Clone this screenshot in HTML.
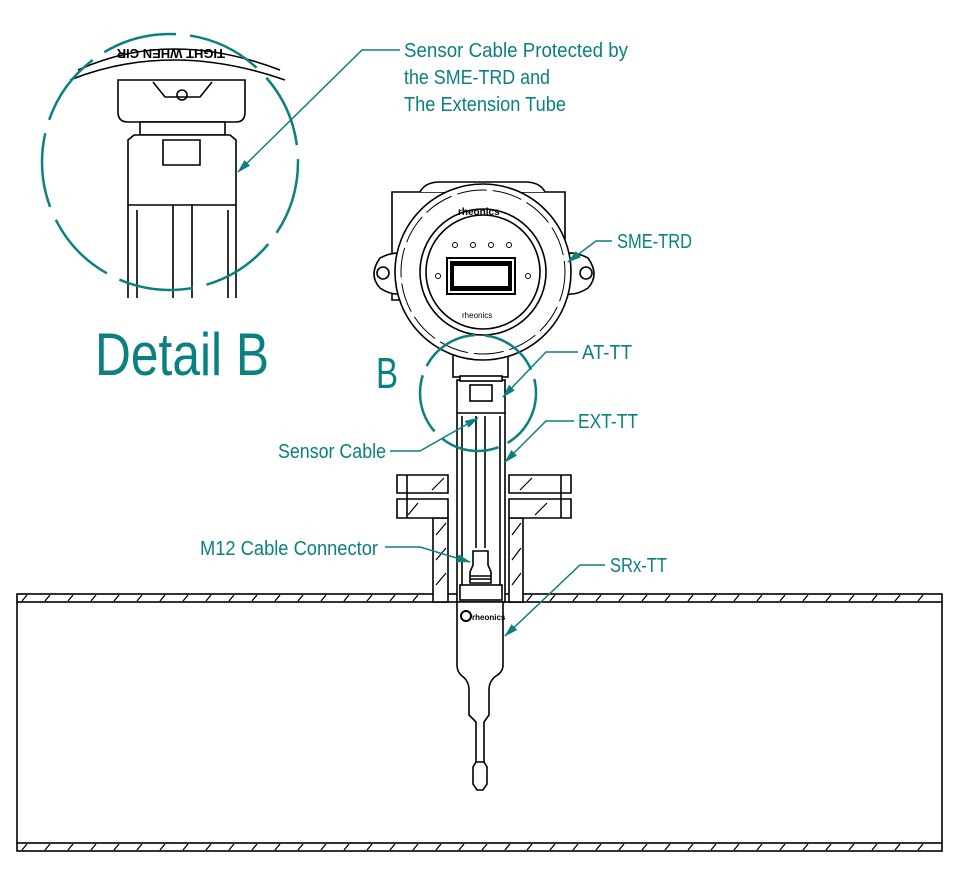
<!DOCTYPE html>
<html><head><meta charset="utf-8"><style>html,body{margin:0;padding:0;background:#fff}svg{display:block}</style></head>
<body>
<svg width="963" height="881" viewBox="0 0 963 881" xmlns="http://www.w3.org/2000/svg" font-family="Liberation Sans, sans-serif">
<defs>
<marker id="ar" markerWidth="14" markerHeight="8" refX="13" refY="4" orient="auto" markerUnits="userSpaceOnUse"><path d="M0,0 L14,4 L0,8 Z" fill="#0a8080"/></marker>
</defs>
<g fill="none" stroke="#000" stroke-width="1.6">
<!-- pipe -->
<rect x="17" y="594" width="925" height="8" fill="#fff"/>
<rect x="17" y="843" width="925" height="8" fill="#fff"/>
<line x1="17" y1="602" x2="17" y2="843"/>
<line x1="942" y1="602" x2="942" y2="843"/>
<g stroke-width="1.3">
<path d="M22,601l5,-6 M45,601l5,-6 M68,601l5,-6 M91,601l5,-6 M114,601l5,-6 M137,601l5,-6 M160,601l5,-6 M183,601l5,-6 M206,601l5,-6 M229,601l5,-6 M252,601l5,-6 M275,601l5,-6 M298,601l5,-6 M321,601l5,-6 M344,601l5,-6 M367,601l5,-6 M390,601l5,-6 M413,601l5,-6 M527,601l5,-6 M550,601l5,-6 M573,601l5,-6 M596,601l5,-6 M619,601l5,-6 M642,601l5,-6 M665,601l5,-6 M688,601l5,-6 M711,601l5,-6 M734,601l5,-6 M757,601l5,-6 M780,601l5,-6 M803,601l5,-6 M826,601l5,-6 M849,601l5,-6 M872,601l5,-6 M895,601l5,-6 M918,601l5,-6"/>
<path d="M22,850l5,-6 M45,850l5,-6 M68,850l5,-6 M91,850l5,-6 M114,850l5,-6 M137,850l5,-6 M160,850l5,-6 M183,850l5,-6 M206,850l5,-6 M229,850l5,-6 M252,850l5,-6 M275,850l5,-6 M298,850l5,-6 M321,850l5,-6 M344,850l5,-6 M367,850l5,-6 M390,850l5,-6 M413,850l5,-6 M436,850l5,-6 M459,850l5,-6 M482,850l5,-6 M505,850l5,-6 M527,850l5,-6 M550,850l5,-6 M573,850l5,-6 M596,850l5,-6 M619,850l5,-6 M642,850l5,-6 M665,850l5,-6 M688,850l5,-6 M711,850l5,-6 M734,850l5,-6 M757,850l5,-6 M780,850l5,-6 M803,850l5,-6 M826,850l5,-6 M849,850l5,-6 M872,850l5,-6 M895,850l5,-6 M918,850l5,-6"/>
</g>
<!-- flange & nozzle -->
<rect x="433" y="518" width="15" height="84" fill="#fff"/>
<rect x="509" y="518" width="14" height="84" fill="#fff"/>
<path d="M397,475 H448 V493 H397 Z M397,499 H448 V518 H397 Z" fill="#fff"/>
<path d="M509,475 H571 V493 H509 Z M509,499 H571 V518 H509 Z" fill="#fff"/>
<line x1="407" y1="475" x2="407" y2="518"/><line x1="561" y1="475" x2="561" y2="518"/>
<path d="M436,535l10,-12 M436,560l10,-12 M436,585l10,-12 M512,535l9,-12 M512,560l9,-12 M512,585l9,-12 M432,490l12,-12 M520,490l12,-12 M408,515l10,-12 M535,515l12,-12" stroke-width="1.2"/>
<!-- tube -->
<rect x="457" y="380" width="48" height="222" fill="#fff"/>
<line x1="457" y1="413" x2="505" y2="413"/>
<line x1="462" y1="416" x2="462" y2="585"/><line x1="500" y1="416" x2="500" y2="585"/>
<line x1="476" y1="416" x2="476" y2="548"/><line x1="485" y1="416" x2="485" y2="548"/>
<rect x="470" y="385" width="22" height="16"/>
<!-- M12 connector -->
<path d="M473,551 H488 V565 L491,572 V583 H470 V572 L473,565 Z" fill="#fff"/>
<line x1="470" y1="576" x2="491" y2="576"/><line x1="470" y1="579" x2="491" y2="579"/>
<rect x="460" y="585" width="42" height="15" fill="#fff"/>
<!-- SRx -->
<path d="M457,602 H503 V665 Q503,672 496,676 Q489,681 489,690 V715 L484,722 V762 H476 V722 L469,715 V690 Q469,681 462,676 Q457,672 457,665 Z" fill="#fff"/>
<path d="M476,762 L473,767 V784 L477,790 H483 L487,784 V767 L484,762"/>
<circle cx="466" cy="616" r="5" stroke-width="2"/>
<text x="472" y="620" font-size="8" font-weight="bold" fill="#000" stroke="none">rheonics</text>
<!-- housing -->
<path d="M392,192 H565 V300 H392 Z" fill="#fff"/>
<path d="M420,192 Q425,182 440,182 H525 Q540,182 545,192" fill="#fff"/>
<path d="M380,258 Q395,250 410,255 L410,292 Q395,298 380,288 Q368,275 380,258 Z" fill="#fff"/>
<circle cx="383" cy="273" r="6"/>
<path d="M588,258 Q573,250 558,255 L558,292 Q573,298 588,288 Q600,275 588,258 Z" fill="#fff"/>
<circle cx="586" cy="273" r="6"/>
<rect x="453" y="355" width="55" height="22" fill="#fff"/>
<rect x="460" y="376" width="42" height="5" fill="#fff"/>
<circle cx="483" cy="272" r="88" fill="#fff"/>
<circle cx="483" cy="272" r="82" stroke-width="1" stroke-dasharray="30 6"/>
<circle cx="483" cy="272" r="63"/>
<circle cx="483" cy="272" r="57"/>
<rect x="447" y="258" width="68" height="36" fill="#fff" stroke-width="2"/>
<rect x="450" y="261" width="62" height="30" fill="#000" stroke="none"/>
<rect x="454" y="266" width="54" height="20" fill="#fff" stroke="none"/>
<g stroke-width="1"><circle cx="455" cy="245" r="2.5"/><circle cx="473" cy="245" r="2.5"/><circle cx="491" cy="245" r="2.5"/><circle cx="509" cy="245" r="2.5"/><circle cx="438" cy="276" r="2.5"/><circle cx="528" cy="276" r="2.5"/></g>
<text x="458" y="215" font-size="10" font-weight="bold" fill="#000" stroke="none">rheonics</text>
<text x="462" y="318" font-size="8" fill="#000" stroke="none">rheonics</text>
<!-- detail B contents -->
<path d="M78,70 Q170,28 280,70" fill="#fff"/>
<path d="M70,80 Q170,40 285,80"/>
<path d="M118,80 H245 V112 Q245,122 236,122 H128 Q118,122 118,112 Z" fill="#fff"/>
<path d="M153,82 L165,97 H200 L212,82"/>
<circle cx="182" cy="95" r="5"/>
<rect x="140" y="122" width="85" height="13" fill="#fff"/>
<path d="M128,140 L134,135 H230 L236,140 V205 H128 Z" fill="#fff"/>
<path d="M163,140 H200 V165 H163 Z"/>
<path d="M128,205 V298 M236,205 V298 M137,210 V298 M228,210 V298 M173,205 V298 M192,205 V298"/>
</g>
<text x="125" y="55" font-size="13" font-weight="bold" fill="#000" transform="rotate(180 175 52)">TIGHT WHEN CIR</text>
<!-- teal annotations -->
<g fill="none" stroke="#0a8080" stroke-width="1.5">
<circle cx="170" cy="162" r="128" stroke-width="2.5" stroke-dasharray="75 14"/>
<circle cx="478" cy="393" r="58" stroke-width="2.5" stroke-dasharray="60 10"/>
<polyline points="400,50 362,50 238,172" marker-end="url(#ar)"/>
<polyline points="612,241 596,241 568,262" marker-end="url(#ar)"/>
<polyline points="578,352 546,352 503,397" marker-end="url(#ar)"/>
<polyline points="574,421 546,421 505,462" marker-end="url(#ar)"/>
<polyline points="390,451 420,451 478,418" marker-end="url(#ar)"/>
<polyline points="385,547 420,547 470,562" marker-end="url(#ar)"/>
<polyline points="605,565 580,565 505,636" marker-end="url(#ar)"/>
</g>
<g fill="#0a8080" font-size="20">
<text x="404" y="57" textLength="224" lengthAdjust="spacingAndGlyphs">Sensor Cable Protected by</text>
<text x="404" y="84" textLength="146" lengthAdjust="spacingAndGlyphs">the SME-TRD and</text>
<text x="404" y="111" textLength="162" lengthAdjust="spacingAndGlyphs">The Extension Tube</text>
<text x="617" y="248" textLength="75" lengthAdjust="spacingAndGlyphs">SME-TRD</text>
<text x="582" y="359" textLength="50" lengthAdjust="spacingAndGlyphs">AT-TT</text>
<text x="578" y="428" textLength="60" lengthAdjust="spacingAndGlyphs">EXT-TT</text>
<text x="278" y="458" textLength="108" lengthAdjust="spacingAndGlyphs">Sensor Cable</text>
<text x="200" y="555" textLength="178" lengthAdjust="spacingAndGlyphs">M12 Cable Connector</text>
<text x="610" y="572" textLength="57" lengthAdjust="spacingAndGlyphs">SRx-TT</text>
<text x="376" y="388" font-size="44" textLength="22" lengthAdjust="spacingAndGlyphs">B</text>
<text x="95" y="375" font-size="60" textLength="174" lengthAdjust="spacingAndGlyphs">Detail B</text>
</g>
</svg>
</body></html>
